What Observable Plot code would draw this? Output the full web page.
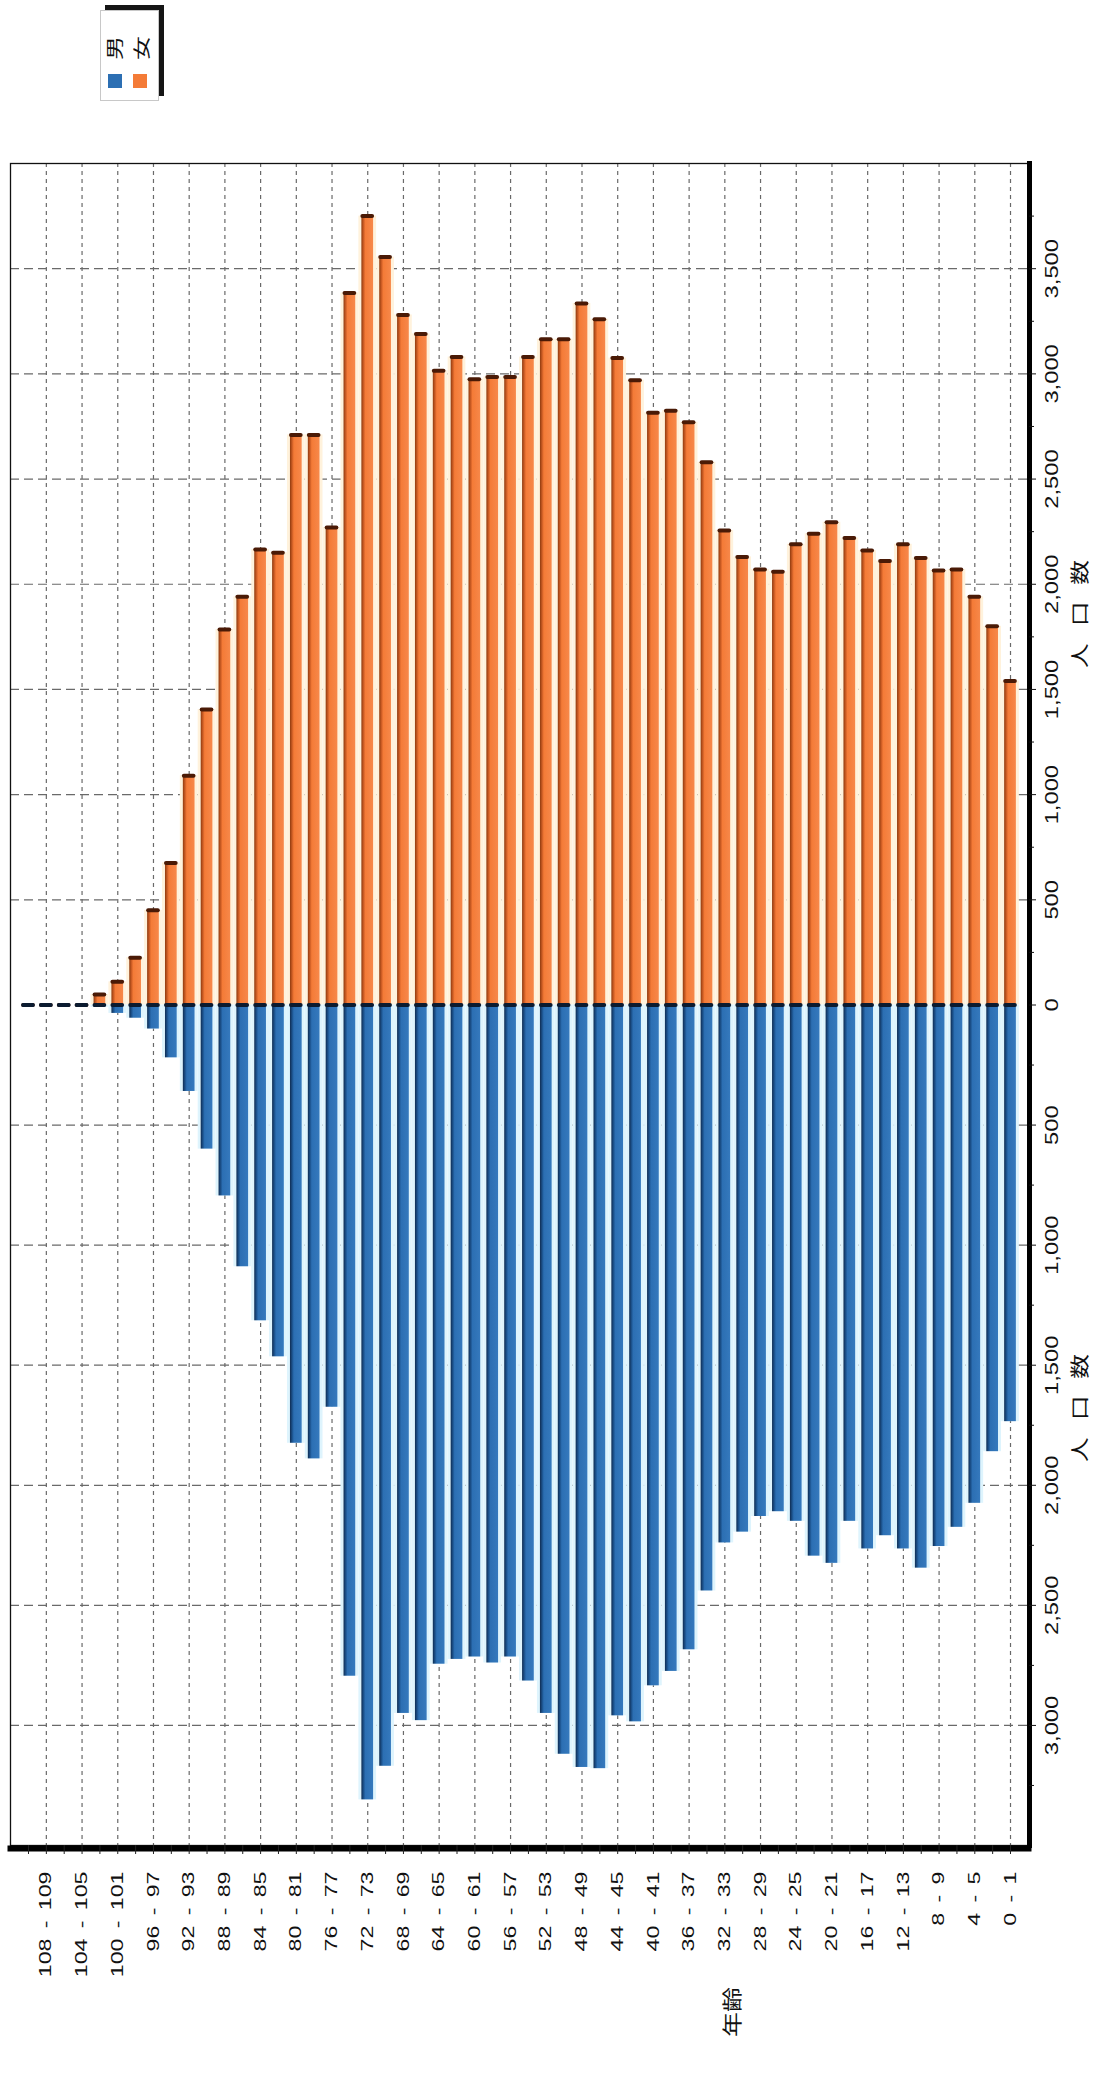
<!DOCTYPE html>
<html>
<head>
<meta charset="utf-8">
<script src="https://cdn.jsdelivr.net/npm/d3@7"></script>
<script src="https://cdn.jsdelivr.net/npm/@observablehq/plot@0.6"></script>
<style>
  body { margin: 0; background: #fff; width: 1099px; height: 2092px; position: relative; overflow: hidden;
         font-family: "Liberation Sans", "Noto Sans CJK JP", sans-serif; }
  #legendWrap { height: 110px; position: relative; }
  #legend { position: absolute; left: 100px; top: 10px; width: 57px; height: 89px; background: #fff;
            border: 1px solid #c8c8c8; box-shadow: 5px -5px 0 #151515; }
  #legend .sw { position: absolute; top: 63px; width: 14px; height: 14px; }
  #chart svg { overflow: visible; }
  .vtext { position: absolute; display: flex; white-space: nowrap; color: #111;
           font-family: "Noto Sans CJK JP", sans-serif; line-height: 1; }
</style>
</head>
<body>
<div id="legendWrap"><div id="legend"></div></div>
<div id="chart"></div>
<script>
// ---- data ----
const ages = ["110 - 111","108 - 109","106 - 107","104 - 105","102 - 103","100 - 101","98 - 99","96 - 97",
  "94 - 95","92 - 93","90 - 91","88 - 89","86 - 87","84 - 85","82 - 83","80 - 81","78 - 79","76 - 77",
  "74 - 75","72 - 73","70 - 71","68 - 69","66 - 67","64 - 65","62 - 63","60 - 61","58 - 59","56 - 57",
  "54 - 55","52 - 53","50 - 51","48 - 49","46 - 47","44 - 45","42 - 43","40 - 41","38 - 39","36 - 37",
  "34 - 35","32 - 33","30 - 31","28 - 29","26 - 27","24 - 25","22 - 23","20 - 21","18 - 19","16 - 17",
  "14 - 15","12 - 13","10 - 11","8 - 9","6 - 7","4 - 5","2 - 3","0 - 1"];
const female = [0,0,0,0,50,110,225,450,675,1090,1405,1785,1940,2165,2150,2710,2710,2270,3385,3750,
  3555,3280,3190,3015,3080,2975,2985,2985,3080,3165,3165,3335,3260,3075,2970,2815,2825,2770,2580,2255,
  2130,2070,2060,2190,2240,2295,2220,2160,2110,2190,2125,2065,2070,1940,1800,1540];
const male = [0,0,0,0,10,35,55,100,220,360,600,795,1090,1315,1465,1825,1890,1675,2795,3310,
  3170,2950,2980,2745,2725,2715,2740,2715,2815,2950,3120,3175,3180,2960,2985,2835,2775,2685,2440,2240,
  2195,2130,2110,2150,2295,2325,2150,2265,2210,2265,2345,2255,2175,2075,1860,1735];
const ageTickLabels = ["108 - 109","104 - 105","100 - 101","96 - 97","92 - 93","88 - 89","84 - 85",
  "80 - 81","76 - 77","72 - 73","68 - 69","64 - 65","60 - 61","56 - 57","52 - 53","48 - 49","44 - 45",
  "40 - 41","36 - 37","32 - 33","28 - 29","24 - 25","20 - 21","16 - 17","12 - 13","8 - 9","4 - 5","0 - 1"];
const femaleTicks = [0,500,1000,1500,2000,2500,3000,3500];
const maleTicks = [500,1000,1500,2000,2500,3000];
const femaleMinor = [250,750,1250,1750,2250,2750,3250,3750];
const maleMinor = [250,750,1250,1750,2250,2750,3250];
const femaleMax = 4000, maleMax = 3500;
const seriesNames = ["男","女"];
const seriesColors = ["#2c6fb3","#f47b37"];
const valueTitle = "人口数";
const ageTitle = "年齢";

// ---- rotated HTML text helper (titles / legend) ----
function vtext(parent, str, cx, cy, size, stretch, gap) {
  const d = document.createElement("div");
  d.className = "vtext";
  d.style.fontSize = size + "px";
  d.style.gap = gap + "px";
  d.style.left = cx + "px";
  d.style.top = cy + "px";
  d.style.transform = `translate(-50%,-50%) rotate(-90deg) scaleX(${stretch})`;
  for (const ch of str) { const s = document.createElement("span"); s.textContent = ch; d.appendChild(s); }
  parent.appendChild(d);
}

// ---- legend ----
const legend = document.getElementById("legend");
seriesNames.forEach((n, i) => {
  vtext(legend, n, i === 0 ? 12 : 39, 37, 17, 1.4, 0);
  const s = document.createElement("div"); s.className = "sw"; s.style.background = seriesColors[i];
  s.style.left = (i === 0 ? 7 : 32) + "px"; legend.appendChild(s);
});

// ---- chart ----
const table = ages.map((a, i) => ({age: a, f: female[i], m: -male[i]}));
const grid = femaleTicks.filter(d => d > 0).concat(maleTicks.map(d => -d));
const major = femaleTicks.concat(maleTicks.map(d => -d));
const minor = femaleMinor.concat(maleMinor.map(d => -d));
const fmt = d3.format(",");

function gradientDefs() {
  const ns = "http://www.w3.org/2000/svg";
  const defs = document.createElementNS(ns, "defs");
  const mk = (id, stops) => {
    const g = document.createElementNS(ns, "linearGradient");
    g.setAttribute("id", id);
    g.setAttribute("x1", "0"); g.setAttribute("x2", "1"); g.setAttribute("y1", "0"); g.setAttribute("y2", "0");
    for (const [o, c] of stops) {
      const s = document.createElementNS(ns, "stop");
      s.setAttribute("offset", o); s.setAttribute("stop-color", c); g.appendChild(s);
    }
    defs.appendChild(g);
  };
  mk("gradF", [["0", "#8f3a0e"], ["0.2", "#cf5e25"], ["0.34", "#f47b37"], ["1", "#f7884a"]]);
  mk("gradM", [["0", "#0f2c52"], ["0.2", "#1c538e"], ["0.34", "#2c6fb3"], ["1", "#3579bd"]]);
  return defs;
}

const chart = Plot.plot({
  width: 1099,
  height: 1880,
  marginTop: 53,
  marginBottom: 145,
  marginLeft: 10,
  marginRight: 71,
  style: {fontFamily: "'Liberation Sans', 'Noto Sans CJK JP', sans-serif", color: "#111", background: "transparent"},
  x: {type: "band", domain: ages, paddingInner: 0.345, paddingOuter: 0.68, round: false, axis: null},
  y: {type: "linear", domain: [-maleMax, 0, femaleMax], range: [1735, 894.5, 53], axis: null},
  marks: [
    gradientDefs,
    Plot.ruleX(ageTickLabels, {x: d => d, stroke: "#6a6a6a", strokeWidth: 1.2, strokeDasharray: "4,4"}),
    Plot.ruleY(grid, {y: d => d, stroke: "#6a6a6a", strokeWidth: 1.2, strokeDasharray: "9,5"}),
    // pale glow around the columns
    Plot.barY(table, {x: "age", y1: 0, y2: "f", fill: "#fff2dc", insetLeft: -3, insetRight: -3}),
    Plot.barY(table, {x: "age", y1: 0, y2: "m", fill: "#def4fd", insetLeft: -3, insetRight: -3}),
    // columns
    Plot.barY(table, {x: "age", y1: 0, y2: "f", fill: "url(#gradF)"}),
    Plot.barY(table, {x: "age", y1: 0, y2: "m", fill: "url(#gradM)"}),
    // column caps
    Plot.tickY(table, {x: "age", y: "f", stroke: "#4a1a06", strokeWidth: 4, strokeLinecap: "round", insetLeft: 1, insetRight: 1}),
    Plot.tickY(table, {x: "age", y: d => 0, stroke: "#0b1b30", strokeWidth: 4, strokeLinecap: "round", insetLeft: 1, insetRight: 1}),
    // frame and axis lines
    Plot.frame({stroke: "#111", strokeWidth: 1.3}),
    Plot.frame({anchor: "right", stroke: "#000", strokeWidth: 5, dx: 1}),
    Plot.frame({anchor: "bottom", stroke: "#000", strokeWidth: 6, dy: 3}),
    // category axis
    Plot.axisX(ages, {anchor: "bottom", tickSize: 9, tickFormat: () => "", label: null, stroke: "#222"}),
    Plot.axisX(ageTickLabels, {anchor: "bottom", tickSize: 0, tickPadding: 26, tickRotate: -90,
      textAnchor: "end", fontSize: 16, label: null}),
    // value axis
    Plot.axisY(minor, {anchor: "right", tickSize: 5, tickFormat: () => "", label: null}),
    Plot.axisY(major, {anchor: "right", tickSize: 7, tickPadding: 22, tickRotate: -90, textAnchor: "middle",
      fontSize: 19, tickFormat: d => fmt(Math.abs(d)), label: null})
  ]
});
document.getElementById("chart").appendChild(chart);

// stretch rotated tick labels along their reading direction, as in the reference
d3.select(chart).selectAll("text").each(function () {
  const t = this.getAttribute("transform");
  const fs = this.parentNode.getAttribute("font-size");
  if (t && t.includes("rotate")) {
    const s = fs === "19" ? 1.25 : 1.45;
    this.setAttribute("transform", t + ` scale(${s},1)`);
    if (fs === "16") this.style.wordSpacing = "2.7px";
  }
});

// axis titles (rotated like the rest of the chart)
vtext(document.body, valueTitle, 1078, 614, 19, 1.3, 13);
vtext(document.body, valueTitle, 1078, 1408, 19, 1.3, 13);
vtext(document.body, ageTitle, 732, 2012, 20, 1.25, 0);
</script>
</body>
</html>
